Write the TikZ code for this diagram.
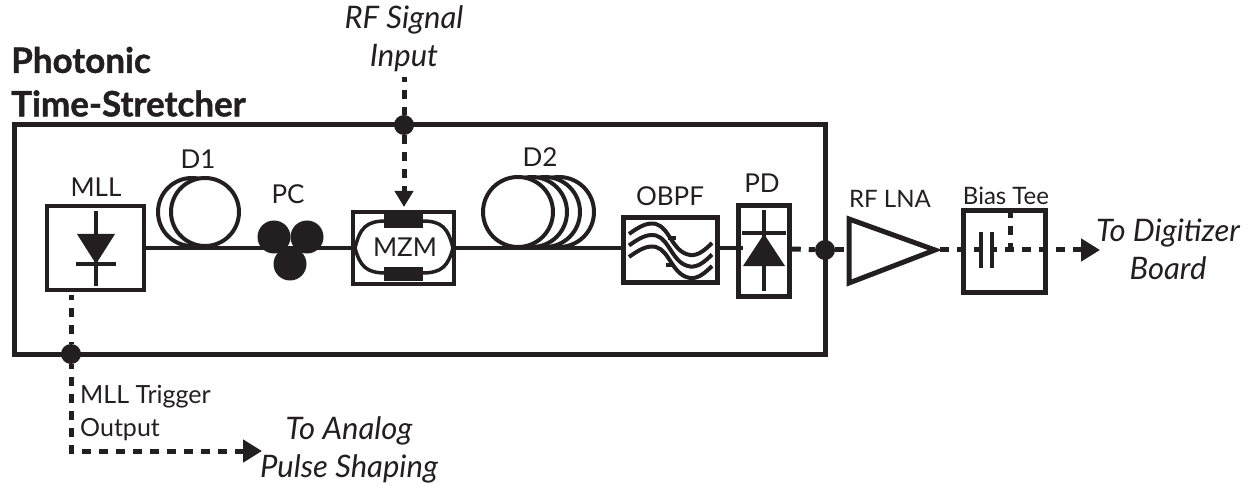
\documentclass[tikz,border=0pt]{standalone}
\usepackage{fontspec}
\setmainfont{Lato}
\newfontfamily\titlefont[BoldFeatures={FakeBold=1.2}]{Lato}
\usetikzlibrary{arrows.meta,calc}
\definecolor{ink}{HTML}{231F20}
\tikzset{
  x=1pt,y=-1pt,
  every path/.style={ink},
  lbl/.style={inner sep=0pt,text=ink,font=\fontsize{26}{26}\selectfont},
  smalllbl/.style={inner sep=0pt,text=ink,font=\fontsize{24}{24}\selectfont},
  note/.style={inner sep=0pt,text=ink,align=center,font=\fontsize{31}{38}\selectfont\itshape},
  titletext/.style={inner sep=0pt,anchor=west,text=ink,font=\fontsize{35}{35}\titlefont\bfseries},
  boxed/.style={draw=ink,line width=4.5pt,inner sep=0pt,fill=none},
  fiber/.style={draw=ink,line width=4pt},
  solid part/.style={draw=ink,line width=4pt},
  sig/.style={draw=ink,line width=5pt,dash pattern=on 9pt off 8pt},
  tip/.style={-{Triangle[length=19pt,width=22pt,fill=ink]}},
  smalltip/.style={-{Triangle[length=16pt,width=18pt,fill=ink]}},
  junction/.style={circle,fill=ink,draw=none,inner sep=0pt,minimum size=20pt},
  coil/.style={draw=ink,fill=white,line width=4pt},
  pcdisk/.style={circle,fill=ink,draw=none,inner sep=0pt,minimum size=33pt},
}
\begin{document}
\begin{tikzpicture}
\useasboundingbox (0,0) rectangle (1249,486);
% enclosure
\node[boxed,line width=5pt,minimum width=811pt,minimum height=229pt] (enc) at (419.5,239.5) {};
% titles
\node[titletext] (t1) at (11,60) {Photonic};
\node[titletext] (t2) at (11,103.5) {Time-Stretcher};
\node[note] (rfin) at (404,38.5) {RF Signal\\Input};
% boxes
\node[boxed,minimum width=97pt,minimum height=84pt] (mll) at (95.5,248) {};
\node[boxed,minimum width=101pt,minimum height=72pt] (mzm) at (403.5,248) {};
\node[boxed,minimum width=94pt,minimum height=65pt] (obpf) at (670.5,250) {};
\node[boxed,minimum width=51pt,minimum height=91pt] (pd) at (764,251) {};
\node[boxed,minimum width=82pt,minimum height=82pt] (bias) at (1004.5,251.5) {};
% fibre
\draw[fiber] (mll.east) -- (mzm.west);
\draw[fiber] (mzm.east) -- (obpf.west |- mzm.east);
\draw[fiber] (obpf.east |- pd.west) ++(0,-3) -- ++(23,0);
% D1
\draw[coil] (192,212) circle (34);
\draw[coil] (205,212) circle (34);
\draw[fiber] (150,248) -- (250,248);
% D2
\draw[coil] (559,212) circle (35);
\draw[coil] (545,212) circle (35);
\draw[coil] (532,212) circle (35);
\draw[coil] (518,212) circle (35);
\draw[fiber] (480,248) -- (600,248);
% PC
\node[pcdisk] (pc1) at (274,237) {};
\node[pcdisk] (pc2) at (307,237) {};
\node[pcdisk] (pc3) at (290,264) {};
% MLL diode
\draw[solid part] (96,211) -- (96,286);
\fill[ink] (77,234) -- (115,234) -- (96,264) -- cycle;
\draw[solid part] (76,264) -- (116,264);
% MZM internals
\draw[line width=3.5pt,draw=ink] (355,248) .. controls (360,228) and (366,221) .. (386,221) -- (422,221) .. controls (442,221) and (448,228) .. (453,248) .. controls (448,266) and (442,273) .. (422,273) -- (386,273) .. controls (366,273) and (360,266) .. (355,248);
\fill[ink] (384,214) rectangle (423,228);
\fill[ink] (384,267) rectangle (423,281);
% OBPF curves
\foreach \d in {0,11.5,23}{
  \begin{scope}[yshift=-\d pt]
  \draw[line width=4pt,draw=ink] (629,234) .. controls (640,226) and (648,222) .. (656,224) .. controls (670,228) and (672,252) .. (690,255) .. controls (698,256) and (705,250) .. (712,243);
  \end{scope}}
\draw[line width=4pt,draw=ink] (668,238) -- (676,238);
\draw[line width=4pt,draw=ink] (666,265) -- (673,265);
% PD diode
\draw[solid part] (764,210) -- (764,291);
\draw[solid part] (742,233) -- (786,233);
\fill[ink] (764,234) -- (785,266) -- (743,266) -- cycle;
% LNA
\node[draw=none,inner sep=0pt] (lnaout) at (937,250) {};
\coordinate (lnain) at (848,250);
\draw[draw=ink,line width=5pt,line join=miter] (849,219) -- (935,250) -- (849,283) -- cycle;
% capacitor
\coordinate (capl) at (981,250);
\coordinate (capr) at (992,250);
\draw[line width=4.5pt,draw=ink] (capl |- 0,232) -- (capl |- 0,268);
\draw[line width=4.5pt,draw=ink] (capr |- 0,232) -- (capr |- 0,268);
% signal paths
\node[junction] (dtop) at (404,125) {};
\node[junction] (dbot) at (71,354) {};
\node[junction] (dpd) at (825,250) {};
\coordinate (rftop) at (404,77);
\coordinate (mzmin) at (404,207);
\draw[sig,dash phase=4pt] (rftop) -- (dtop);
\draw[sig,smalltip] (dtop) -- (mzmin);
\coordinate (trigstart) at (71,295);
\coordinate (trigcorner) at (71,451);
\coordinate (trigend) at (262,451);
\draw[sig,dash phase=4pt,tip] (trigstart) -- (dbot) -- (trigcorner) -- (trigend);
\draw[sig] (pd.east |- dpd) ++(0,-1) -- (dpd);
\draw[sig] (dpd) -- (lnain);
\draw[sig] (lnaout) ++(3,0) -- (capl);
\coordinate (biasend) at (1100,250);
\draw[sig,dash phase=4pt,tip] (capr) -- (biasend);
\draw[sig,dash phase=2pt] (1010,211) -- (1010,250);
% labels
\node[lbl] (lmll) at (96,187) {MLL};
\node[lbl] (ld1) at (198,159) {D1};
\node[lbl] (lpc) at (288,194) {PC};
\node[lbl] (ld2) at (540,157) {D2};
\node[lbl] (lmzm) at (405,247) {MZM};
\node[lbl] (lobpf) at (670,196) {OBPF};
\node[lbl] (lpd) at (762,183) {PD};
\node[smalllbl] (llna) at (890,199) {RF LNA};
\node[smalllbl] (lbias) at (1006,196) {Bias Tee};
\node[note] (ldig) at (1168,249) {To Digitizer\\Board};
\node[note] (lana) at (349,449.5) {To Analog\\Pulse Shaping};
\node[inner sep=0pt,text=ink,align=left,anchor=north west,font=\fontsize{25}{33}\selectfont] (ltrig) at (80,385.5) {MLL Trigger\\Output};
\end{tikzpicture}
\end{document}
